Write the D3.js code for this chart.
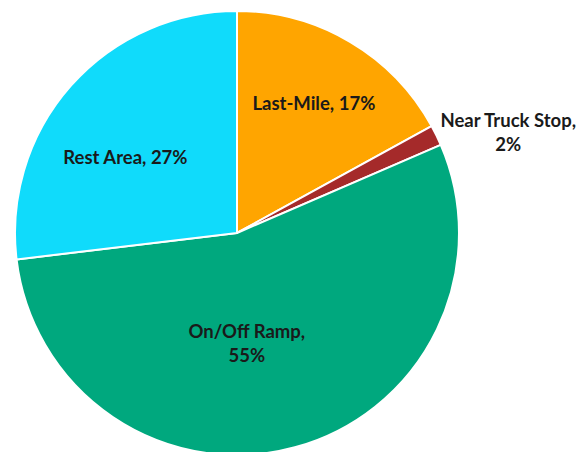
<!DOCTYPE html>
<html>
<head>
<meta charset="utf-8">
<script src="https://cdn.jsdelivr.net/npm/d3@7"></script>
<style>
  body { margin: 0; background: #fff; }
  svg text { font-family: Lato, "Open Sans", sans-serif; font-weight: bold; font-size: 18.5px; fill: #1a1a1a; }
</style>
</head>
<body>
<svg width="581" height="452"></svg>
<script>
// slice data, clockwise from 12 o'clock
var categories = ['Last-Mile', 'Near Truck Stop', 'On/Off Ramp', 'Rest Area'];
var shares = [17.0, 1.5, 54.6, 26.9];
var colors = ['#ffa500', '#a52a2a', '#00a87e', '#10dbfb'];

// label layout: [radius factor, dx, dy, wrap]
var labelLayout = [
    [0.68, 0, 0, false],
    [1.25, 22, 22, true],
    [0.55, -22, -7, true],
    [0.66, -2, 22, false]
];

var svg = d3.select('svg');
var cx = 237, cy = 233, radius = 222;

var g = svg.append('g').attr('transform', 'translate(' + cx + ',' + cy + ')');

var pie = d3.pie().sort(null).value(d => d.value);
var data = categories.map((c, i) => ({ name: c, value: shares[i], color: colors[i], layout: labelLayout[i] }));
var wedges = pie(data);

var arc = d3.arc().innerRadius(0).outerRadius(radius);

g.selectAll('path.slice')
    .data(wedges)
    .enter().append('path')
    .attr('class', 'slice')
    .attr('d', arc)
    .style('fill', d => d.data.color)
    .style('stroke', '#fff')
    .style('stroke-width', 2)
    .style('stroke-linejoin', 'round');

var labels = g.selectAll('text.label')
    .data(wedges)
    .enter().append('text')
    .attr('class', 'label')
    .attr('text-anchor', 'middle')
    .attr('transform', d => {
        var lr = radius * d.data.layout[0];
        var c = d3.arc().innerRadius(lr).outerRadius(lr).centroid(d);
        return 'translate(' + (c[0] + d.data.layout[1]) + ',' + (c[1] + d.data.layout[2]) + ')';
    });

labels.each(function(d) {
    var t = d3.select(this);
    var pct = Math.round(d.data.value) + '%';
    if (d.data.layout[3]) {
        t.append('tspan').attr('x', 0).attr('dy', '-0.3em').text(d.data.name + ',');
        t.append('tspan').attr('x', 0).attr('dy', '1.3em').text(pct);
    } else {
        t.append('tspan').attr('x', 0).attr('dy', '0.35em').text(d.data.name + ', ' + pct);
    }
});
</script>
</body>
</html>
